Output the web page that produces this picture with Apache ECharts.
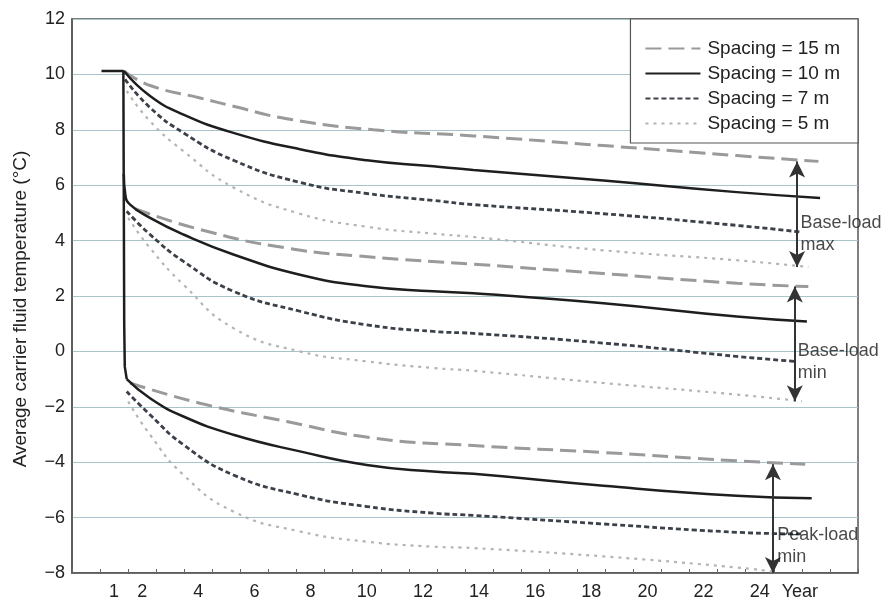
<!DOCTYPE html>
<html>
<head>
<meta charset="utf-8">
<script src="https://cdn.jsdelivr.net/npm/echarts@6/dist/echarts.min.js"></script>
<style>html,body{margin:0;padding:0;background:#fff;}#c{width:888px;height:609px;}</style>
</head>
<body>
<div id="c"></div>
<script>
// X-axis category labels (one slot per year, label centred in slot)
const xLabels = ['', '1', '2', '', '4', '', '6', '', '8', '', '10', '', '12', '', '14', '', '16', '', '18', '', '20', '', '22', '', '24', 'Year', '', ''];
const seriesNames = ['Spacing = 15 m', 'Spacing = 10 m', 'Spacing = 7 m', 'Spacing = 5 m'];

// Base-load max group
const bmax15 = [[1.35,10.12],[2.28,9.6],[4.06,9.15],[5.25,8.85],[7.15,8.4],[10.24,8.0],[13.8,7.78],[18.43,7.43],[23.18,7.07],[26.09,6.86]];
const bmax10 = [[1.35,10.12],[2.28,9.22],[3.47,8.55],[5.25,7.89],[7.62,7.3],[10.0,6.9],[12.37,6.68],[13.8,6.55],[18.43,6.17],[23.18,5.75],[26.15,5.54]];
const bmax7  = [[1.39,9.82],[2.28,8.8],[3.47,7.89],[5.25,6.9],[7.62,6.1],[10.0,5.7],[12.37,5.45],[13.8,5.3],[18.43,4.97],[23.18,4.55],[25.44,4.31]];
const bmax5  = [[1.45,9.4],[2.28,8.31],[3.47,7.23],[5.25,5.92],[7.62,4.97],[10.0,4.5],[12.37,4.25],[13.8,4.13],[18.43,3.65],[23.18,3.29],[25.73,3.05]];

// Base-load min group
const bmin15 = [[1.75,5.15],[4.06,4.4],[7.15,3.73],[10.24,3.4],[13.8,3.15],[18.43,2.81],[23.18,2.46],[25.73,2.34]];
const bmin10 = [[1.345,6.4],[1.40,5.65],[1.57,5.3],[2.28,4.82],[3.47,4.22],[5.25,3.5],[7.62,2.77],[10.0,2.35],[12.37,2.17],[13.8,2.1],[18.43,1.74],[23.18,1.26],[25.68,1.08]];
const bmin7  = [[1.45,5.06],[2.28,4.22],[3.47,3.25],[5.25,2.17],[7.62,1.45],[10.0,0.96],[12.37,0.72],[13.8,0.65],[18.43,0.3],[23.18,-0.18],[25.26,-0.36]];
const bmin5  = [[1.5,4.82],[2.28,3.73],[3.47,2.41],[5.25,0.84],[7.62,0.0],[10.0,-0.36],[12.37,-0.6],[13.8,-0.7],[18.43,-1.14],[23.18,-1.56],[25.5,-1.8]];

// Peak-load min group
const drop10 = [[0.55,10.12],[1.33,10.12],[1.34,7],[1.36,1],[1.38,-0.55],[1.45,-1.0]];
const peak15 = [[1.57,-1.14],[4.06,-1.87],[7.15,-2.53],[10.24,-3.13],[13.8,-3.4],[18.43,-3.65],[23.18,-3.95],[25.62,-4.07]];
const peak10 = [[1.45,-1.0],[2.28,-1.69],[3.47,-2.35],[5.25,-3.01],[7.62,-3.61],[10.0,-4.1],[12.37,-4.34],[13.8,-4.42],[18.43,-4.85],[23.18,-5.21],[25.85,-5.3]];
const peak7  = [[1.45,-1.45],[2.28,-2.29],[3.47,-3.37],[5.25,-4.46],[7.62,-5.18],[10.0,-5.6],[12.37,-5.84],[13.8,-5.92],[18.43,-6.23],[23.18,-6.53],[25.5,-6.59]];
const peak5  = [[1.5,-1.81],[2.28,-3.01],[3.47,-4.46],[5.25,-5.78],[7.62,-6.5],[10.0,-6.87],[12.37,-7.05],[13.8,-7.1],[18.43,-7.4],[23.18,-7.8],[24.5,-7.95]];

// Range arrows: [x, yTop, yBottom]
const arrows = [[25.33, 6.86, 3.05], [25.25, 2.34, -1.8], [24.47, -4.07, -8.0]];
// Annotation labels: [x, y, text]
const annotations = [[25.45, 4.24, 'Base-load\nmax'], [25.35, -0.38, 'Base-load\nmin'], [24.62, -7.03, 'Peak-load\nmin']];

const FONT = 'Liberation Sans, Arial, Helvetica, sans-serif';
const styles = {
  'Spacing = 15 m': {color: '#9a9a9a', width: 3, type: [16, 7]},
  'Spacing = 10 m': {color: '#1e1e1e', width: 2.5, type: 'solid'},
  'Spacing = 7 m':  {color: '#3c4048', width: 2.8, type: [5, 3]},
  'Spacing = 5 m':  {color: '#b4b4b4', width: 2.2, type: [3, 5]}
};
function mk(name, data, smooth) {
  const s = styles[name];
  return {
    type: 'line', name: name, data: data, xAxisIndex: 1,
    showSymbol: false, symbol: 'none',
    smooth: smooth === false ? false : 0.5,
    lineStyle: {color: s.color, width: s.width, type: s.type},
    itemStyle: {color: s.color},
    z: 3
  };
}
const series = [
  mk(seriesNames[0], bmax15), mk(seriesNames[1], bmax10), mk(seriesNames[2], bmax7), mk(seriesNames[3], bmax5),
  mk(seriesNames[0], bmin15), mk(seriesNames[1], bmin10), mk(seriesNames[2], bmin7), mk(seriesNames[3], bmin5),
  mk(seriesNames[0], peak15), mk(seriesNames[1], peak10), mk(seriesNames[2], peak7), mk(seriesNames[3], peak5),
  mk(seriesNames[1], drop10, false)
];
series.push({
  type: 'line', name: 'arrows', xAxisIndex: 1, data: [], symbol: 'none',
  markLine: {
    silent: true, symbol: ['arrow', 'arrow'], symbolSize: [12, 16],
    lineStyle: {color: '#333', width: 2, type: 'solid'},
    label: {show: false},
    data: arrows.map(a => [{coord: [a[0], a[1]]}, {coord: [a[0], a[2]]}])
  }
});
series.push({
  type: 'scatter', name: 'notes', xAxisIndex: 1, symbolSize: 0,
  data: annotations.map(a => [a[0], a[1], a[2]]),
  label: {
    show: true, position: 'right', distance: 0, align: 'left', verticalAlign: 'middle',
    formatter: p => p.value[2], fontFamily: FONT, fontSize: 18, lineHeight: 22, color: '#1a1a1a'
  },
  z: 6
});

const chart = echarts.init(document.getElementById('c'), null, {renderer: 'canvas'});
chart.setOption({
  animation: false,
  backgroundColor: '#ffffff',
  grid: {left: 72, right: 30, top: 19, bottom: 36, show: true, borderColor: '#555', borderWidth: 1.5, backgroundColor: 'transparent'},
  legend: {
    data: seriesNames, orient: 'vertical', right: 30, top: 19,
    backgroundColor: '#fff', borderColor: '#555', borderWidth: 1.2, borderRadius: 0,
    padding: [20, 18, 10, 14], itemWidth: 55, itemHeight: 14, itemGap: 6,
    itemStyle: {opacity: 0, borderWidth: 0},
    textStyle: {fontFamily: FONT, fontSize: 19, color: '#222', padding: [0, 0, 0, 2]}
  },
  xAxis: [
    {
      type: 'category', data: xLabels, boundaryGap: true,
      axisLine: {show: true, onZero: false, lineStyle: {color: '#555', width: 1.5}},
      axisTick: {show: true, inside: true, length: 4, interval: 0, lineStyle: {color: '#666'}},
      axisLabel: {
        interval: 0, margin: 10, fontFamily: FONT, fontSize: 18, color: '#222',
        formatter: v => v === 'Year' ? '{y|Year}' : v,
        rich: {y: {fontFamily: FONT, fontSize: 18, color: '#222', padding: [0, 0, 0, 24]}}
      },
      splitLine: {show: false}
    },
    {type: 'value', min: -0.5, max: 27.5, show: false, splitLine: {show: false}, axisLine: {onZero: false}}
  ],
  yAxis: {
    type: 'value', min: -8, max: 12, interval: 2,
    name: 'Average carrier fluid temperature (°C)', nameLocation: 'middle', nameGap: 42,
    nameTextStyle: {fontFamily: FONT, fontSize: 19, color: '#222', padding: [0, 26, 0, 0]},
    axisLine: {show: true, onZero: false, lineStyle: {color: '#555', width: 1.5}},
    axisTick: {show: false},
    axisLabel: {margin: 7, fontFamily: FONT, fontSize: 18, color: '#222', formatter: v => v < 0 ? '\u2212' + Math.abs(v) : String(v)},
    splitLine: {show: true, lineStyle: {color: '#a9c3cb', width: 1}}
  },
  series: series
});
</script>
</body>
</html>
